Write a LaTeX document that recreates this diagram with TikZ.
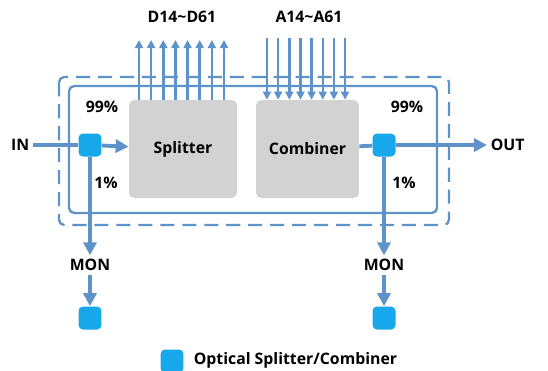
\documentclass[tikz,border=0pt]{standalone}
\usepackage{fontspec}
\setmainfont{Open Sans}
\usetikzlibrary{arrows.meta,positioning}
\definecolor{fiber}{HTML}{5E93C9}
\definecolor{coupler}{HTML}{17A8EC}
\definecolor{block}{HTML}{D2D2D3}
\begin{document}
\begin{tikzpicture}[x=0.02cm, y=-0.02cm, font=\fontsize{9}{11}\selectfont\bfseries,
	fib/.style = {draw=fiber, line width=2.2pt, -{Triangle[length=0.26cm, width=0.26cm]}},
	ch/.style = {draw=fiber, line width=1.4pt, -{Triangle[length=0.16cm, width=0.16cm]}},
	blk/.style = {fill=block, rounded corners=3pt, inner sep=0pt},
	cpl/.style = {fill=coupler, rounded corners=2.5pt, minimum size=0.46cm, inner sep=0pt},
	lbl/.style = {inner sep=2pt}]
				\useasboundingbox (0,0) rectangle (548,370);

				\draw[fiber, line width=1.3pt, dash pattern=on 8pt off 4.5pt, rounded corners=3pt] (59,77) rectangle (449,225);
				\draw[fiber, line width=1.3pt, rounded corners=3pt] (69,86) rectangle (437,213);

				\node[blk, minimum width=2.16cm, minimum height=1.96cm] (spl) at (183,149) {Splitter};
				\node[blk, minimum width=2.06cm, minimum height=1.96cm] (cmb) at (307.5,149) {Combiner};

				\node[cpl] (c1) at (90,145) {};
				\node[cpl] (c2) at (384,145) {};

				\node[lbl, anchor=east] (in) at (33,145) {IN};
				\node[lbl, anchor=west] (out) at (487,145) {OUT};

				\node[lbl] (mon1) at (90,265) {MON};
				\node[lbl] (mon2) at (384,265) {MON};
				\node[cpl] (m1) at (90,318) {};
				\node[cpl] (m2) at (384,318) {};

				\node[lbl] (p1) at (102,107) {99\%};
				\node[lbl] (p2) at (407,107) {99\%};
				\node[lbl] (p3) at (106,183) {1\%};
				\node[lbl] (p4) at (404,183) {1\%};

				\node[lbl] (dlbl) at (182,17) {D14\textasciitilde D61};
				\node[lbl] (albl) at (309,17) {A14\textasciitilde A61};

				\foreach \i in {0,...,7} {
					\coordinate (d\i) at (139+12.14*\i,40);
					\draw[ch] (spl.north -| d\i) -- (d\i);
					\coordinate (a\i) at (267+11.15*\i,38);
					\draw[ch] (a\i) -- (cmb.north -| a\i);
				}

				\draw[fib, -] (in) -- (c1);
				\draw[fib] (c1) -- (spl);
				\draw[fib, -] (cmb) -- (c2);
				\draw[fib] (c2) -- (out);

				\draw[fib] (c1) -- (mon1);
				\draw[fib] (mon1) -- (m1);
				\draw[fib] (c2) -- (mon2);
				\draw[fib] (mon2) -- (m2);

				\node[cpl] (key) at (172,361) {};
				\node[lbl, anchor=west] (keytxt) at (190,360) {Optical Splitter/Combiner};
			\end{tikzpicture}
\end{document}
